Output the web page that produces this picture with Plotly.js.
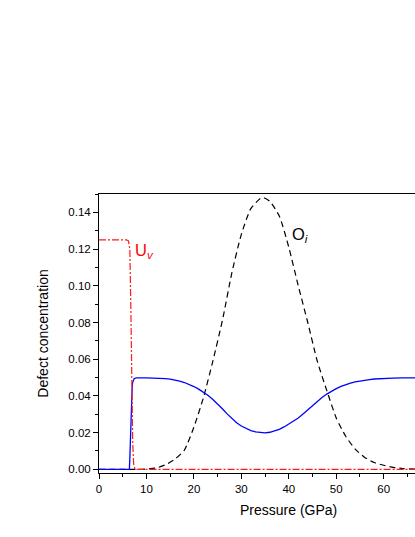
<!DOCTYPE html>
<html>
<head>
<meta charset="utf-8">
<script src="https://cdn.plot.ly/plotly-3.0.1.min.js"></script>
<style>html,body{margin:0;padding:0;background:#fff;}#chart{width:415px;height:537px;}</style>
</head>
<body>
<div id="chart"></div>
<script>
// Vacancy U_v (red dash-dot)
const uvPressure = [0, 5.8, 6.2, 6.5, 6.7, 6.9, 7.1, 7.3, 7.6, 66.6];
const uvConc     = [0.125, 0.125, 0.1245, 0.12, 0.09, 0.05, 0.015, 0.003, 0, 0];

// Interstitial O_i (black dashed)
const oiPressure = [0, 8, 10, 12, 14, 16, 18, 20, 22, 24, 26, 28, 30, 32, 34, 34.7, 36, 38, 40, 42, 44, 46, 48, 50, 52, 54, 56, 58, 60, 62, 64, 66.6];
const oiConc     = [0, 0, 0.0002, 0.0007, 0.0025, 0.0055, 0.0105, 0.023, 0.039, 0.059, 0.081, 0.107, 0.128, 0.142, 0.1475, 0.148, 0.146, 0.138, 0.121, 0.100, 0.080, 0.059, 0.043, 0.028, 0.018, 0.011, 0.0065, 0.0037, 0.0022, 0.0011, 0.0004, 0.0001];

// Blue solid curve
const bluePressure = [0, 6.4, 6.5, 6.6, 6.7, 6.8, 6.9, 7.0, 7.1, 7.2, 7.4, 7.7, 8, 10, 12, 13, 14, 15, 16, 17, 18, 19, 20, 21, 22, 23, 24, 25, 26, 27, 28, 29, 30, 31, 32, 33, 34, 35, 36, 37, 38, 39, 40, 41, 42, 43, 44, 45, 46, 47, 48, 49, 50, 51, 52, 53, 54, 55, 56, 57, 58, 59, 60, 62, 64, 66.6];
const blueConc     = [0, 0, 0.006, 0.016, 0.027, 0.036, 0.042, 0.0455, 0.0475, 0.0487, 0.0494, 0.0497, 0.0498, 0.0498, 0.0497, 0.0496, 0.0494, 0.0491, 0.0487, 0.0481, 0.0473, 0.0463, 0.0451, 0.0437, 0.0421, 0.0402, 0.0380, 0.0356, 0.0330, 0.0302, 0.0276, 0.0254, 0.0236, 0.0222, 0.0211, 0.0204, 0.0200, 0.0199, 0.0202, 0.0208, 0.0218, 0.0231, 0.0246, 0.0262, 0.0280, 0.0302, 0.0325, 0.0348, 0.0370, 0.0391, 0.0410, 0.0426, 0.0440, 0.0452, 0.0462, 0.0470, 0.0477, 0.0482, 0.0486, 0.0489, 0.0492, 0.0494, 0.0495, 0.0497, 0.0498, 0.0498];

const xTicks = [0, 10, 20, 30, 40, 50, 60];
const yTicks = [0, 0.02, 0.04, 0.06, 0.08, 0.10, 0.12, 0.14];
const yTickText = ['0.00', '0.02', '0.04', '0.06', '0.08', '0.10', '0.12', '0.14'];

const font = 'Liberation Sans, Arial, sans-serif';

const traces = [
  {x: oiPressure, y: oiConc, mode: 'lines', line: {color: '#000000', width: 1.2, dash: '6px,4px', shape: 'spline', smoothing: 0.6}, hoverinfo: 'skip'},
  {x: bluePressure, y: blueConc, mode: 'lines', line: {color: '#0000ff', width: 1.3}, hoverinfo: 'skip'},
  {x: uvPressure, y: uvConc, mode: 'lines', line: {color: '#ff1a1a', width: 1.2, dash: '7px,2px,2px,2px'}, hoverinfo: 'skip'}
];

const layout = {
  width: 415, height: 537,
  margin: {l: 99, r: 0, t: 194, b: 64},
  paper_bgcolor: '#ffffff', plot_bgcolor: '#ffffff',
  showlegend: false,
  font: {family: font, color: '#000000', size: 11.5},
  xaxis: {
    range: [0, 66.6], tickvals: xTicks, ticktext: xTicks.map(String),
    showgrid: false, zeroline: false, showline: true, mirror: true,
    linecolor: '#000000', linewidth: 1,
    ticks: 'outside', ticklen: 5, tickwidth: 1, tickcolor: '#000000',
    minor: {dtick: 5, tick0: 0, ticks: 'outside', ticklen: 3, tickwidth: 1, tickcolor: '#000000', showgrid: false},
    tickfont: {family: font, size: 11.5}
  },
  yaxis: {
    range: [-0.002, 0.150], tickvals: yTicks, ticktext: yTickText,
    showgrid: false, zeroline: false, showline: true, mirror: false,
    linecolor: '#000000', linewidth: 1,
    ticks: 'outside', ticklen: 5, tickwidth: 1, tickcolor: '#000000',
    minor: {dtick: 0.01, tick0: 0, ticks: 'outside', ticklen: 3, tickwidth: 1, tickcolor: '#000000', showgrid: false},
    tickfont: {family: font, size: 11.5},
    title: {text: 'Defect concentration', font: {family: font, size: 14}, standoff: 16}
  },
  annotations: [
    {x: 0.6003, y: -0.131, xref: 'paper', yref: 'paper', xanchor: 'center', yanchor: 'middle', showarrow: false,
     text: 'Pressure (GPa)', font: {family: font, size: 14, color: '#000000'}},
    {x: 7.2, y: 0.119, xref: 'x', yref: 'y', xanchor: 'left', yanchor: 'middle', showarrow: false,
     text: 'U<sub><i>v</i></sub>', font: {family: font, size: 16.5, color: '#ff0000'}},
    {x: 40.3, y: 0.1275, xref: 'x', yref: 'y', xanchor: 'left', yanchor: 'middle', showarrow: false,
     text: 'O<sub><i>i</i></sub>', font: {family: font, size: 16.5, color: '#000000'}},
    {x: 66.4, y: 0.0552, xref: 'x', yref: 'y', xanchor: 'left', yanchor: 'middle', showarrow: false,
     text: 'O', font: {family: font, size: 16, color: '#0000ff'}}
  ]
};

Plotly.newPlot('chart', traces, layout, {staticPlot: true, displayModeBar: false});
</script>
</body>
</html>
